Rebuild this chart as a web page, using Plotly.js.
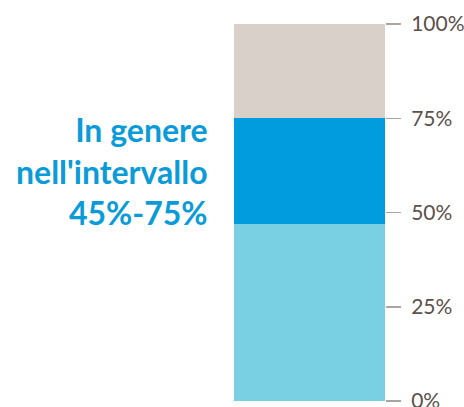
<!DOCTYPE html>
<html>
<head>
<meta charset="utf-8">
<script src="https://cdn.plot.ly/plotly-3.0.1.min.js"></script>
<style>html,body{margin:0;padding:0;background:#fff;}#chart{width:464px;height:407px;}</style>
</head>
<body>
<div id="chart"></div>
<script>
const categories = ["Allocazione"];
const segmentNames = ["Fascia bassa", "In genere", "Fascia alta"];
const segmentValues = [47, 28, 25];
const segmentColors = ["#7AD0E3", "#009CDE", "#D9D0CA"];
const tickValues = [0, 25, 50, 75, 100];
const tickLabels = ["0%", "25%", "50%", "75%", "100%"];
const annotationText = "In genere<br>nell'intervallo<br>45%-75%";

const traces = segmentValues.map((v, i) => ({
  type: "bar",
  x: categories,
  y: [v],
  name: segmentNames[i],
  marker: {color: segmentColors[i], line: {width: 0}},
  hoverinfo: "skip"
}));

const layout = {
  width: 464, height: 407,
  margin: {l: 234, r: 79, t: 24, b: 6, pad: 0},
  barmode: "stack",
  bargap: 0,
  showlegend: false,
  paper_bgcolor: "#ffffff",
  plot_bgcolor: "#ffffff",
  font: {family: "Lato, 'Open Sans', sans-serif"},
  xaxis: {visible: false, range: [-0.5, 0.5], fixedrange: true},
  yaxis: {
    side: "right",
    range: [0, 100],
    tickvals: tickValues,
    ticktext: tickLabels,
    ticks: "outside",
    ticklen: 15,
    tickwidth: 1.5,
    tickcolor: "#ABA39D",
    ticklabelstandoff: 6,
    ticklabeloverflow: "allow",
    automargin: false,
    tickfont: {size: 21, color: "#5B504B", family: "Lato, sans-serif"},
    showgrid: false,
    zeroline: false,
    showline: false,
    fixedrange: true
  },
  annotations: [{
    xref: "paper", yref: "paper",
    x: -0.159, y: 0.61,
    xanchor: "right", yanchor: "middle",
    align: "right",
    showarrow: false,
    text: annotationText,
    font: {size: 32, color: "#0A9BD8", family: "Lato, sans-serif", weight: "bold"}
  }]
};

Plotly.newPlot("chart", traces, layout, {displayModeBar: false, staticPlot: true});
</script>
</body>
</html>
